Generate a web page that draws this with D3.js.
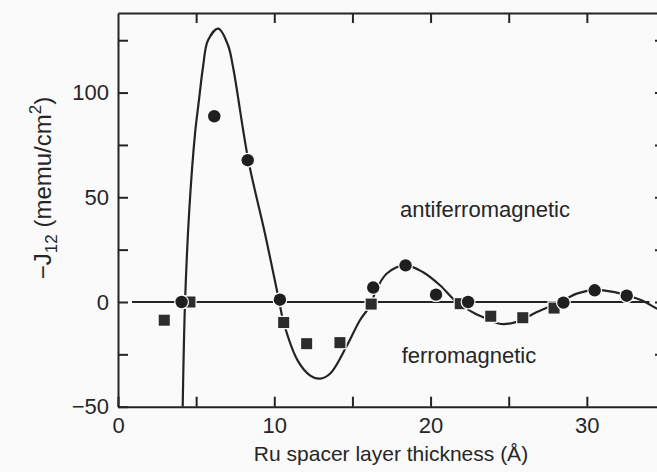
<!DOCTYPE html>
<html>
<head>
<meta charset="utf-8">
<script src="https://cdn.jsdelivr.net/npm/d3@7"></script>
<style>
  html, body { margin: 0; padding: 0; background: #fafafa; }
  svg { display: block; }
  text { font-family: "Liberation Sans", Arial, sans-serif; fill: #262626; }
</style>
</head>
<body>
<svg id="chart" width="657" height="472"></svg>
<script>
// Interlayer exchange coupling −J12 versus Ru spacer thickness (Å)

// Measured coupling, antiferromagnetic samples (circles)
const circleThickness = [4.07, 6.16, 8.3, 10.36, 16.33, 18.4, 20.35, 22.4, 28.5, 30.5, 32.55];
const circleJ        = [0.0, 88.7, 67.7, 1.1, 6.9, 17.5, 3.5, 0.0, -0.3, 5.6, 3.0];

// Measured coupling, ferromagnetic samples (squares)
const squareThickness = [2.96, 4.6, 10.6, 12.07, 14.2, 16.2, 21.9, 23.85, 25.9, 27.9];
const squareJ        = [-8.7, 0.0, -9.8, -19.9, -19.4, -1.0, -0.8, -6.8, -7.5, -2.9];

// Fitted oscillatory coupling curve
const fitThickness = [4.14, 4.29, 4.56, 4.93, 5.18, 5.44, 5.76, 6.42, 7.04, 7.36, 8.34, 9.4, 10.3, 10.6,
                      11.5, 12.28, 12.92, 13.6, 14.6, 15.48, 16.2, 16.45, 17.2, 18.4, 19.5, 20.6, 21.67,
                      22.84, 23.8, 24.5, 25.5, 26.8, 28.3, 29.35, 30.5, 31.7, 32.6, 33.5, 34.5, 35.0];
const fitJ        = [-50, 0, 43.8, 80.5, 96.4, 112.2, 125, 130.5, 122.6, 112.2, 67.7, 32.8, 0.8, -9.8,
                      -28, -35, -36.6, -34, -21.5, -8.7, -1.0, 4.5, 13.6, 17.5, 14.3, 8.0, 0.0,
                      -5.5, -8.6, -10.5, -9.5, -4.8, 0.0, 4.0, 5.8, 4.8, 3.0, 0.8, -3.2, -4.5];

// Axis ticks and labels
const xTicks = [0, 5, 10, 15, 20, 25, 30, 35];
const xLabels = [0, 10, 20, 30];
const yTicks = [-50, -25, 0, 25, 50, 75, 100, 125];
const yLabels = [-50, 0, 50, 100];

const svg = d3.select("#chart");
const ink = "#242424";

const x = d3.scaleLinear().domain([0, 35]).range([118, 665]);
const y = d3.scaleLinear().domain([-50, 138]).range([406.7, 13]);

svg.append("defs").append("clipPath").attr("id", "plot-clip")
  .append("rect")
  .attr("x", x(0)).attr("y", y(138))
  .attr("width", x(35) - x(0)).attr("height", y(-50) - y(138));

function styleAxis(g) {
  g.selectAll(".domain").attr("stroke", ink).attr("stroke-width", 2);
  g.selectAll(".tick line").attr("stroke", ink).attr("stroke-width", 2);
  g.selectAll(".tick text").attr("font-size", 22).attr("fill", "#262626")
    .style("font-family", "'Liberation Sans', Arial, sans-serif");
}

// Bottom axis
svg.append("g")
  .attr("transform", `translate(0,${y(-50)})`)
  .call(d3.axisBottom(x).tickValues(xTicks).tickSizeInner(-10).tickSizeOuter(0).tickPadding(11)
    .tickFormat(d => xLabels.includes(d) ? d : ""))
  .call(styleAxis);

// Top axis
svg.append("g")
  .attr("transform", `translate(0,${y(138)})`)
  .call(d3.axisTop(x).tickValues(xTicks.filter(d => d > 0 && d < 35)).tickSizeInner(-10).tickSizeOuter(0)
    .tickFormat(""))
  .call(styleAxis);

// Left axis
svg.append("g")
  .attr("transform", `translate(${x(0)},0)`)
  .call(d3.axisLeft(y).tickValues(yTicks).tickSizeInner(-10).tickSizeOuter(0).tickPadding(9)
    .tickFormat(d => yLabels.includes(d) ? d3.format("")(d) : ""))
  .call(styleAxis);

// Right axis
svg.append("g")
  .attr("transform", `translate(${x(35)},0)`)
  .call(d3.axisRight(y).tickValues(yTicks.filter(d => d > -50)).tickSizeInner(-10).tickSizeOuter(0)
    .tickFormat(""))
  .call(styleAxis);

// Zero-coupling reference line
svg.append("line")
  .attr("x1", x(0.9)).attr("x2", x(34))
  .attr("y1", y(0)).attr("y2", y(0))
  .attr("stroke", ink).attr("stroke-width", 2);

// Fitted curve
const fit = fitThickness.map((t, i) => [t, fitJ[i]]);
svg.append("path")
  .datum(fit)
  .attr("clip-path", "url(#plot-clip)")
  .attr("fill", "none")
  .attr("stroke", ink)
  .attr("stroke-width", 2.2)
  .attr("d", d3.line().x(d => x(d[0])).y(d => y(d[1])).curve(d3.curveCatmullRom.alpha(0.5)));

// Square markers
const sq = 11;
svg.append("g").selectAll("rect")
  .data(squareThickness.map((t, i) => [t, squareJ[i]]))
  .join("rect")
  .attr("x", d => x(d[0]) - sq / 2)
  .attr("y", d => y(d[1]) - sq / 2)
  .attr("width", sq).attr("height", sq)
  .attr("fill", "#2c2c2c")
  .attr("stroke", "#fafafa").attr("stroke-width", 2.5)
  .attr("paint-order", "stroke");

// Circle markers
svg.append("g").selectAll("circle")
  .data(circleThickness.map((t, i) => [t, circleJ[i]]))
  .join("circle")
  .attr("cx", d => x(d[0]))
  .attr("cy", d => y(d[1]))
  .attr("r", 6.2)
  .attr("fill", "#1f1f1f")
  .attr("stroke", "#fafafa").attr("stroke-width", 2.5)
  .attr("paint-order", "stroke");

// Region annotations
svg.append("text")
  .attr("x", x(18.04)).attr("y", y(40.6))
  .attr("font-size", 22)
  .text("antiferromagnetic");

svg.append("text")
  .attr("x", x(18.15)).attr("y", y(-29.1))
  .attr("font-size", 22)
  .text("ferromagnetic");

// Axis titles
svg.append("text")
  .attr("x", 391).attr("y", 461)
  .attr("text-anchor", "middle")
  .attr("font-size", 21)
  .text("Ru spacer layer thickness (Å)");

const yTitle = svg.append("text")
  .attr("transform", "translate(51,188) rotate(-90)")
  .attr("text-anchor", "middle")
  .attr("font-size", 24);
yTitle.append("tspan").text("−J");
yTitle.append("tspan").attr("font-size", 17).attr("dy", 6).text("12");
yTitle.append("tspan").attr("dy", -6).text(" (memu/cm");
yTitle.append("tspan").attr("font-size", 17).attr("dy", -10).text("2");
yTitle.append("tspan").attr("dy", 10).text(")");
</script>
</body>
</html>
